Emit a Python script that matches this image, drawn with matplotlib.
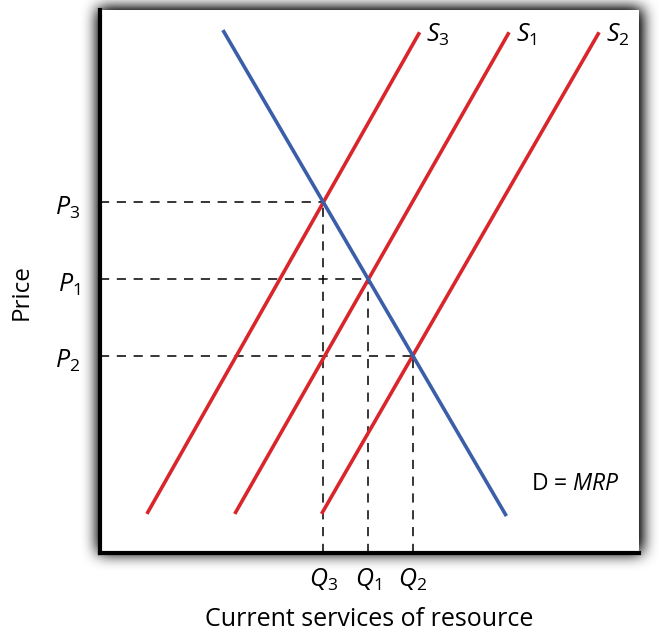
import numpy as np
import matplotlib
matplotlib.use("Agg")
import matplotlib.pyplot as plt

plt.rcParams['font.family'] = ['Open Sans', 'DejaVu Sans']
plt.rcParams['mathtext.fontset'] = 'custom'
plt.rcParams['mathtext.rm'] = 'Open Sans'
plt.rcParams['mathtext.it'] = 'Open Sans:italic'

# curve end points (quantity, price)
demand_q = [2.28, 7.54]
demand_p = [9.63, 0.68]
supply_names = ['S_3', 'S_1', 'S_2']
supply_q = [[0.87, 5.93], [2.50, 7.59], [4.11, 9.26]]
supply_p = [[0.72, 9.59], [0.72, 9.59], [0.72, 9.59]]
eq_price_labels = ['P_3', 'P_1', 'P_2']
eq_qty_labels = ['Q_3', 'Q_1', 'Q_2']

red = '#d9262b'
blue = '#3a5ea8'

W, H = 659, 635
fig = plt.figure(figsize=(W / 100, H / 100), dpi=100)

# drop shadow behind the panel
px0, px1, py0, py1 = 100, 639, 10, 553
mask = np.zeros((H, W))
mask[H - py1:H - py0 + 2, px0 - 2:px1 + 3] = 1.0
k = np.ones(15) / 15
for _ in range(3):
    mask = np.apply_along_axis(lambda r: np.convolve(r, k, mode='same'), 0, mask)
    mask = np.apply_along_axis(lambda r: np.convolve(r, k, mode='same'), 1, mask)
rgba = np.zeros((H, W, 4))
rgba[..., 3] = np.clip(mask * 1.3, 0, 0.8)
fig.figimage(rgba, 0, 0, origin='lower', zorder=0)

ax = fig.add_axes([px0 / W, (H - py1) / H, (px1 - px0) / W, (py1 - py0) / H])
ax.set_xlim(0, 10)
ax.set_ylim(0, 10)
ax.set_facecolor('white')
ax.set_zorder(1)

def line_coef(q, p):
    m = (p[1] - p[0]) / (q[1] - q[0])
    return m, p[0] - m * q[0]

md, bd = line_coef(demand_q, demand_p)

for name, q, p, pl, ql in zip(supply_names, supply_q, supply_p, eq_price_labels, eq_qty_labels):
    ax.plot(q, p, color=red, lw=2.6, solid_capstyle='butt', zorder=3)
    ax.text(q[1] + 0.12, p[1] - 0.05, '$' + name + '$', fontsize=18, va='center', ha='left')
    ms, bs = line_coef(q, p)
    qe = (bd - bs) / (ms - md)
    pe = md * qe + bd
    ax.plot([0, qe], [pe, pe], color='black', lw=1.1, dashes=(6, 5), zorder=2)
    ax.plot([qe, qe], [0, pe], color='black', lw=1.1, dashes=(6, 5), zorder=2)
    ax.text(-0.36, pe - 0.1, '$' + pl + '$', fontsize=18, ha='right', va='center')
    ax.text(qe, -0.25, '$' + ql + '$', fontsize=18, ha='center', va='top')

ax.plot(demand_q, demand_p, color=blue, lw=2.6, solid_capstyle='butt', zorder=4)
ax.text(8.0, 1.27, 'D = $\\mathit{MRP}$', fontsize=16.5, ha='left', va='center')

for s in ['top', 'right']:
    ax.spines[s].set_visible(False)
for s in ['left', 'bottom']:
    ax.spines[s].set_linewidth(3)
ax.set_xticks([])
ax.set_yticks([])
fig.text(369 / W, 1 - 620 / H, 'Current services of resource', fontsize=18,
         ha='center', va='center')
fig.text(22 / W, 1 - 292 / H, 'Price', fontsize=17.5, rotation=90,
         ha='center', va='center')

fig.savefig('out.png', dpi=100)
